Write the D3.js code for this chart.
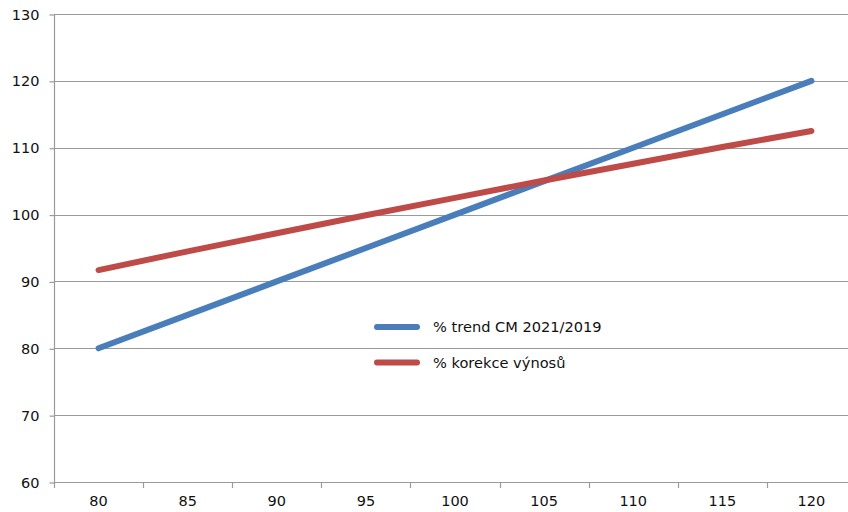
<!DOCTYPE html>
<html>
<head>
<meta charset="utf-8">
<script src="https://cdn.jsdelivr.net/npm/d3@7"></script>
<style>
  html, body { margin: 0; padding: 0; background: #fff; }
  svg { display: block; }
  text { font-family: "DejaVu Sans", Verdana, sans-serif; fill: #111; }
</style>
</head>
<body>
<svg id="chart" width="848" height="512"></svg>
<script>
// Categories along the x axis
const categories = [80, 85, 90, 95, 100, 105, 110, 115, 120];
// Series values
const trendCM = [80, 85, 90, 95, 100, 105, 110, 115, 120];
const korekceVynosu = [91.7, 94.5, 97.2, 99.9, 102.5, 105.1, 107.6, 110.1, 112.5];
// Value axis ticks
const yTicks = [60, 70, 80, 90, 100, 110, 120, 130];

const seriesNames = ["% trend CM 2021/2019", "% korekce výnosů"];
const seriesColors = ["#4a7ebb", "#be4b48"];

(function () {
  const svg = d3.select("#chart");
  const W = 848;
  const plotLeft = 54, plotRight = 856, plotTop = 14, plotBottom = 482;

  const x = d3.scaleBand().domain(categories).range([plotLeft, plotRight]).padding(0);
  const y = d3.scaleLinear().domain([60, 130]).range([plotBottom, plotTop]);

  const gridColor = "#9a9a9a";

  // Horizontal gridlines
  svg.append("g")
    .selectAll("line")
    .data(yTicks)
    .join("line")
    .attr("x1", plotLeft).attr("x2", W)
    .attr("y1", d => Math.round(y(d)) + 0.5)
    .attr("y2", d => Math.round(y(d)) + 0.5)
    .attr("stroke", gridColor)
    .attr("stroke-width", 1.2);

  // Y axis
  const yAxis = d3.axisLeft(y).tickValues(yTicks).tickSize(5).tickPadding(10);
  const gy = svg.append("g").attr("transform", `translate(${plotLeft + 0.5},0.5)`).call(yAxis);
  gy.select(".domain").attr("stroke", gridColor).attr("stroke-width", 1.2).attr("d", `M0,${plotTop}V${plotBottom}`);
  gy.selectAll(".tick line").attr("stroke", gridColor).attr("stroke-width", 1.2);
  gy.selectAll(".tick text").attr("font-size", 14.5).attr("fill", "#111")
    .attr("font-family", "DejaVu Sans, Verdana, sans-serif");

  // X axis: tick marks between categories, labels centred in each band
  const xAxis = d3.axisBottom(x).tickSize(0).tickPadding(13);
  const gx = svg.append("g").attr("transform", `translate(0,${plotBottom + 0.5})`).call(xAxis);
  gx.select(".domain").attr("stroke", gridColor).attr("stroke-width", 1.2).attr("d", `M${plotLeft},0H${W}`);
  gx.selectAll(".tick text").attr("font-size", 14.5).attr("fill", "#111")
    .attr("font-family", "DejaVu Sans, Verdana, sans-serif");
  svg.append("g")
    .selectAll("line")
    .data(categories)
    .join("line")
    .attr("x1", d => Math.round(x(d)) + 0.5)
    .attr("x2", d => Math.round(x(d)) + 0.5)
    .attr("y1", plotBottom).attr("y2", plotBottom + 6)
    .attr("stroke", gridColor).attr("stroke-width", 1.2);

  // Series lines
  const line = d3.line()
    .x((d, i) => x(categories[i]) + x.bandwidth() / 2)
    .y(d => y(d));

  [trendCM, korekceVynosu].forEach((vals, i) => {
    svg.append("path")
      .datum(vals)
      .attr("d", line)
      .attr("fill", "none")
      .attr("stroke", seriesColors[i])
      .attr("stroke-width", 6)
      .attr("stroke-linecap", "round")
      .attr("stroke-linejoin", "round");
  });

  // Legend
  const legend = svg.append("g").attr("transform", "translate(377,327)");
  seriesNames.forEach((name, i) => {
    const g = legend.append("g").attr("transform", `translate(0,${i * 35.5})`);
    g.append("line")
      .attr("x1", 0).attr("x2", 40)
      .attr("y1", 0).attr("y2", 0)
      .attr("stroke", seriesColors[i])
      .attr("stroke-width", 6)
      .attr("stroke-linecap", "round");
    g.append("text")
      .attr("x", 56).attr("y", 5)
      .attr("font-size", 14.6)
      .text(name);
  });
})();
</script>
</body>
</html>
